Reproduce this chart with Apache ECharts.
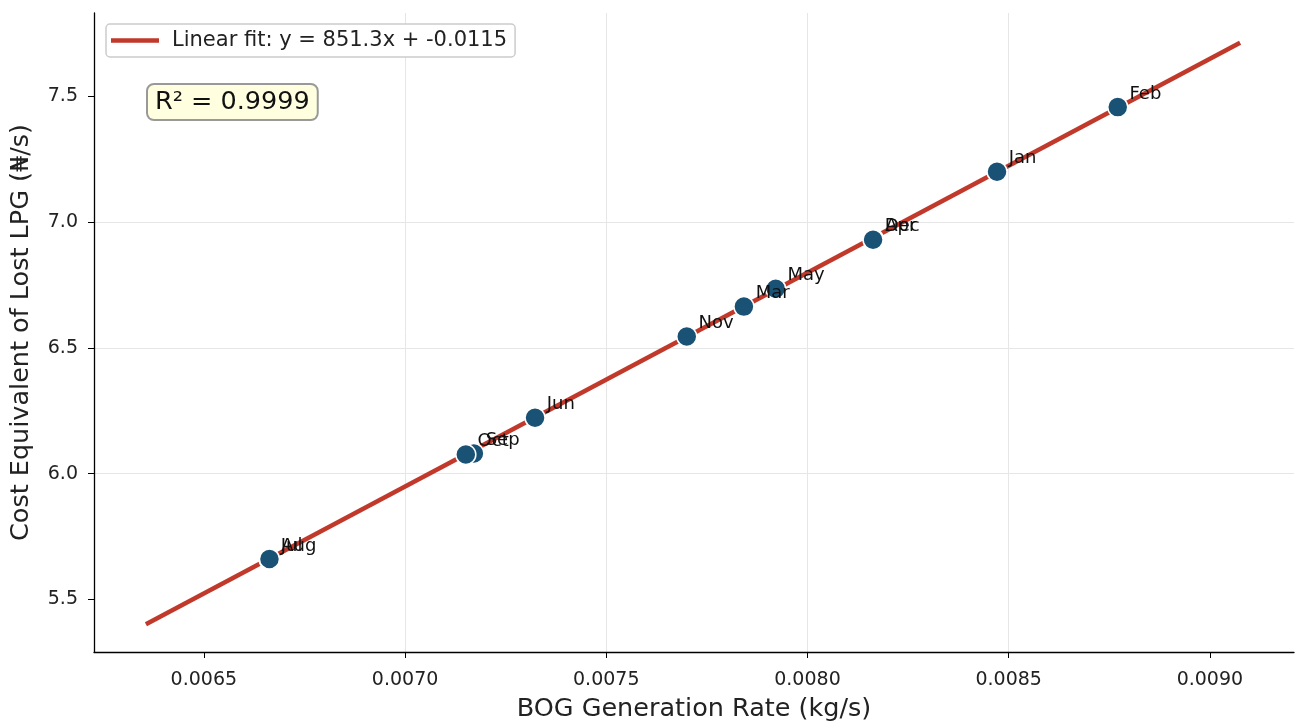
<!DOCTYPE html>
<html>
<head>
<meta charset="utf-8">
<script src="https://cdn.jsdelivr.net/npm/echarts@6/dist/echarts.min.js"></script>
<style>
  html, body { margin: 0; padding: 0; background: #fff; }
  #chart { width: 1295px; height: 727px; }
</style>
</head>
<body>
<div id="chart"></div>
<script>
// monthly points
const months = ['Jan', 'Feb', 'Mar', 'Apr', 'May', 'Jun', 'Jul', 'Aug', 'Sep', 'Oct', 'Nov', 'Dec'];
const bogRate = [0.008471, 0.008771, 0.007842, 0.008164, 0.007921, 0.007323, 0.006662, 0.006663, 0.007171, 0.007151, 0.007700, 0.008163];
const lostCost = [7.200, 7.457, 6.664, 6.932, 6.735, 6.222, 5.660, 5.661, 6.080, 6.076, 6.545, 6.930];

// fitted line end points
const fitX = [0.006356, 0.009075];
const fitY = [5.401, 7.713];

// tick positions
const xTicks = [0.0065, 0.0070, 0.0075, 0.0080, 0.0085, 0.0090];
const yTicks = [5.5, 6.0, 6.5, 7.0, 7.5];

const fitName = 'Linear fit: y = 851.3x + -0.0115';
const r2Text = 'R² = 0.9999';

const font = 'DejaVu Sans';

var chart = echarts.init(document.getElementById('chart'));

var points = months.map((m, i) => [bogRate[i], lostCost[i], m]);
var fitLine = fitX.map((x, i) => [x, fitY[i]]);

var option = {
  animation: false,
  textStyle: { fontFamily: font },
  grid: { left: 94, right: 1, top: 13, bottom: 71 },
  legend: {
    left: 106,
    top: 24,
    data: [{ name: fitName, icon: 'rect' }],
    backgroundColor: '#fff',
    borderColor: '#cccccc',
    borderWidth: 1.5,
    borderRadius: 4,
    padding: [6, 8, 6, 5],
    itemWidth: 48,
    itemHeight: 4.5,
    textStyle: { fontFamily: font, fontSize: 21, color: '#222', padding: [0, 0, 0, 8] }
  },
  xAxis: {
    type: 'value',
    min: 0.006227,
    max: 0.009209,
    splitNumber: 5,
    name: 'BOG Generation Rate (kg/s)',
    nameLocation: 'middle',
    nameGap: 44,
    nameTextStyle: { fontFamily: font, fontSize: 25.5, color: '#222' },
    axisLine: { show: true, lineStyle: { color: '#000', width: 1.3 } },
    axisTick: { show: true, length: 6, customValues: xTicks, lineStyle: { color: '#000' } },
    axisLabel: {
      customValues: xTicks,
      margin: 19, fontSize: 19, color: '#222',
      formatter: v => v.toFixed(4)
    },
    splitLine: { show: true, showMinLine: false, showMaxLine: false, lineStyle: { color: '#e6e6e6', width: 1 } }
  },
  yAxis: {
    type: 'value',
    min: 5.291,
    max: 7.831,
    splitNumber: 5,
    name: 'Cost Equivalent of Lost LPG (₦/s)',
    nameLocation: 'middle',
    nameGap: 60,
    nameTextStyle: { fontFamily: font, fontSize: 25.5, color: '#222' },
    axisLine: { show: true, lineStyle: { color: '#000', width: 1.3 } },
    axisTick: { show: true, length: 6, customValues: yTicks, lineStyle: { color: '#000' } },
    axisLabel: {
      customValues: yTicks,
      margin: 16, fontSize: 19, color: '#222',
      formatter: v => v.toFixed(1)
    },
    splitLine: { show: true, showMinLine: false, showMaxLine: false, lineStyle: { color: '#e6e6e6', width: 1 } }
  },
  series: [
    {
      name: fitName,
      type: 'line',
      data: fitLine,
      symbol: 'none',
      z: 2,
      lineStyle: { color: '#c0392b', width: 4.5 },
      itemStyle: { color: '#c0392b' }
    },
    {
      name: 'Months',
      type: 'scatter',
      data: points,
      symbolSize: 20,
      z: 3,
      itemStyle: { color: '#1a5276', opacity: 1, borderColor: '#fff', borderWidth: 1.5 },
      label: {
        show: true,
        position: 'right',
        distance: 1,
        offset: [0, -13],
        fontFamily: font,
        fontSize: 18,
        color: '#111',
        formatter: p => p.data[2]
      }
    }
  ],
  graphic: [
    {
      type: 'text',
      left: 146,
      top: 83,
      style: {
        text: r2Text,
        fontFamily: font,
        fontSize: 25.5,
        fill: '#111',
        backgroundColor: '#ffffe0',
        borderColor: '#999',
        borderWidth: 2,
        borderRadius: 6,
        padding: [4, 7, 4, 7]
      }
    }
  ]
};

chart.setOption(option);
</script>
</body>
</html>
